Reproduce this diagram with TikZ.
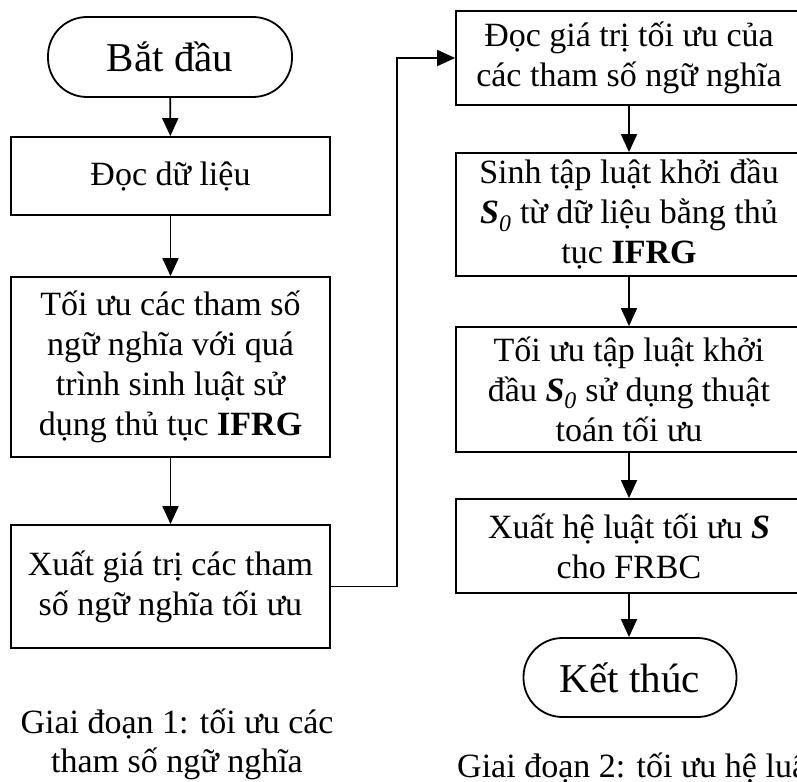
\documentclass[tikz,border=0pt]{standalone}
\usepackage{fontspec}
\setmainfont{Liberation Serif}
\usetikzlibrary{arrows.meta}

\tikzset{
    procbox/.style={draw, line width=1.8pt, align=center, inner sep=0pt,
        font=\fontsize{34}{40}\selectfont},
    termbox/.style={draw, line width=1.8pt, rounded corners=39pt, inner sep=0pt,
        font=\fontsize{41}{48}\selectfont},
    flow/.style={-{Triangle[length=18pt,width=16pt]}, line width=1.8pt},
    caption/.style={align=center, inner sep=0pt, font=\fontsize{34}{39}\selectfont}
}
\newcommand{\Szero}{\textbf{\textit{S}}\textsubscript{\textit{0}}}

\begin{document}
\begin{tikzpicture}[x=1pt,y=-1pt]
        \path[clip, use as bounding box] (0,0) rectangle (797,781);

        % Giai doan 1
        \node[termbox, minimum width=244pt, minimum height=80pt] (batdau) at (170,57) {Bắt đầu};
        \node[procbox, minimum width=319pt, minimum height=78pt] (docdl) at (170.5,176) {Đọc dữ liệu};
        \node[procbox, minimum width=319pt, minimum height=180pt] (toiuu) at (170.5,367)
            {Tối ưu các tham số\\ngữ nghĩa với quá\\trình sinh luật sử\\dụng thủ tục \textbf{IFRG}};
        \node[procbox, minimum width=319pt, minimum height=123pt] (xuatgt) at (170.5,586.5)
            {Xuất giá trị các tham\\số ngữ nghĩa tối ưu};
        \node[caption] (gd1) at (177,744) {Giai đoạn 1: tối ưu các\\tham số ngữ nghĩa};

        % Giai doan 2
        \node[procbox, minimum width=346pt, minimum height=94pt] (docgt) at (629,58)
            {Đọc giá trị tối ưu của\\các tham số ngữ nghĩa};
        \node[procbox, minimum width=346pt, minimum height=123pt] (sinhluat) at (629,214.5)
            {Sinh tập luật khởi đầu\\\Szero{} từ dữ liệu bằng thủ\\tục \textbf{IFRG}};
        \node[procbox, minimum width=346pt, minimum height=125pt] (toiuuluat) at (629,389.5)
            {Tối ưu tập luật khởi\\đầu \Szero{} sử dụng thuật\\toán tối ưu};
        \node[procbox, minimum width=346pt, minimum height=94pt] (xuathe) at (629,546)
            {Xuất hệ luật tối ưu \textbf{\textit{S}}\\cho FRBC};
        \node[termbox, minimum width=213pt, minimum height=79pt] (ketthuc) at (630,677.5) {Kết thúc};
        \node[caption, anchor=base west] (gd2) at (457,777) {Giai đoạn 2: tối ưu hệ luật};

        % Arrows
        \draw[flow] (batdau) -- (docdl);
        \draw[flow] (docdl) -- (toiuu);
        \draw[flow] (toiuu) -- (xuatgt);
        \draw[flow] (xuatgt.east) -- ++(66,0) |- (docgt.west);
        \draw[flow] (docgt.south) -- (docgt.south |- sinhluat.north);
        \draw[flow] (sinhluat.south) -- (sinhluat.south |- toiuuluat.north);
        \draw[flow] (toiuuluat.south) -- (toiuuluat.south |- xuathe.north);
        \draw[flow] (xuathe.south) -- (xuathe.south |- ketthuc.north);
    \end{tikzpicture}
\end{document}
